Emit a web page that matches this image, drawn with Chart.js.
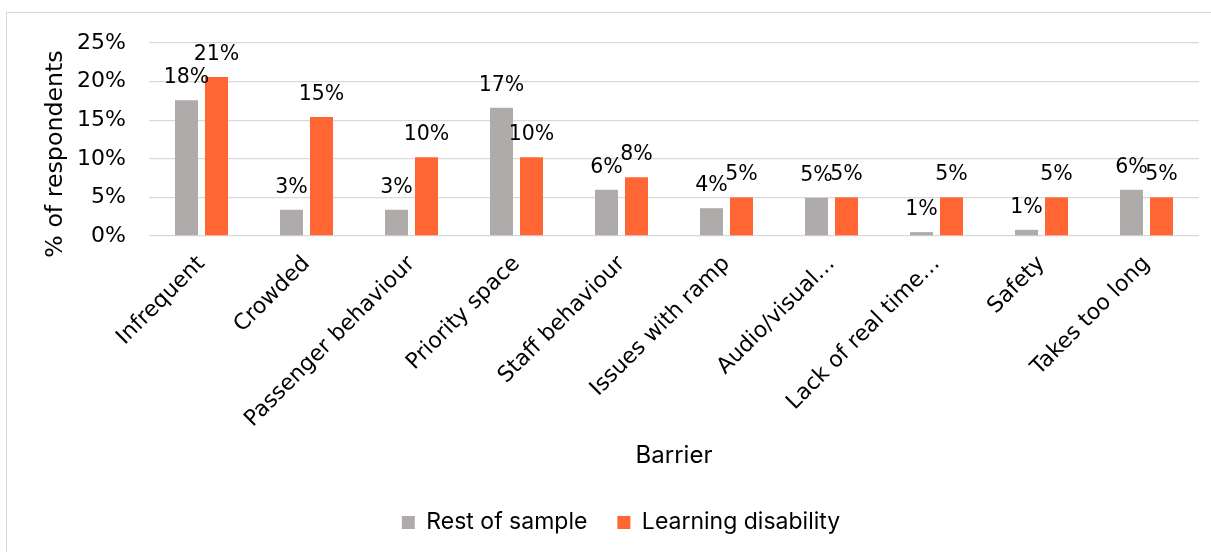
<!DOCTYPE html>
<html>
<head>
<meta charset="utf-8">
<script src="https://cdn.jsdelivr.net/npm/chart.js@4/dist/chart.umd.min.js"></script>
<style>
  html, body { margin: 0; padding: 0; background: #fff; }
  #wrap { position: relative; width: 1211px; height: 552px; overflow: hidden; }
  #frame { position: absolute; left: 6px; top: 12px; width: 1300px; height: 700px; border: 1.5px solid #d9d9d9; box-sizing: border-box; }
  canvas { position: absolute; left: 0; top: 0; }
</style>
</head>
<body>
<div id="wrap">
  <div id="frame"></div>
  <canvas id="c" width="1211" height="552"></canvas>
</div>
<script>
const categories = ["Infrequent", "Crowded", "Passenger behaviour", "Priority space", "Staff behaviour", "Issues with ramp", "Audio/visual…", "Lack of real time…", "Safety", "Takes too long"];
const restOfSample = [17.6, 3.4, 3.4, 16.6, 6.0, 3.6, 4.95, 0.5, 0.8, 6.0];
const learningDisability = [20.6, 15.4, 10.2, 10.2, 7.6, 5.0, 5.0, 5.0, 5.0, 5.0];
const yTicks = [0, 5, 10, 15, 20, 25];
const yTitle = '% of respondents';

const dataLabels = {
  id: 'dataLabels',
  afterDatasetsDraw(chart) {
    const ctx = chart.ctx;
    ctx.save();
    ctx.font = '20.5px "DejaVu Sans"';
    ctx.fillStyle = '#000';
    ctx.textAlign = 'center';
    ctx.textBaseline = 'alphabetic';
    chart.data.datasets.forEach((ds, i) => {
      const meta = chart.getDatasetMeta(i);
      meta.data.forEach((bar, j) => {
        const v = ds.data[j];
        ctx.fillText(Math.round(v) + '%', bar.x, bar.y - 17);
      });
    });
    ctx.restore();
  }
};

const yTitlePlugin = {
  id: 'yTitlePlugin',
  afterDraw(chart) {
    const ctx = chart.ctx;
    const area = chart.chartArea;
    ctx.save();
    ctx.font = '23.7px "DejaVu Sans"';
    ctx.fillStyle = '#000';
    ctx.textAlign = 'center';
    ctx.textBaseline = 'middle';
    ctx.translate(56, area.bottom - 82);
    ctx.rotate(-Math.PI / 2);
    ctx.fillText(yTitle, 0, 0);
    ctx.restore();
  }
};

new Chart(document.getElementById('c'), {
  type: 'bar',
  data: {
    labels: categories,
    datasets: [
      { label: 'Rest of sample', data: restOfSample, backgroundColor: '#afabab', categoryPercentage: 0.571, barPercentage: 0.767 },
      { label: 'Learning disability', data: learningDisability, backgroundColor: '#ff6633', categoryPercentage: 0.571, barPercentage: 0.767 }
    ]
  },
  options: {
    responsive: false,
    animation: false,
    layout: { padding: { top: 43, right: 12, left: 43, bottom: 8 } },
    plugins: {
      legend: {
        position: 'bottom',
        labels: {
          boxWidth: 13, boxHeight: 13, padding: 30, color: '#000',
          font: { family: 'Inter', size: 23 }
        }
      },
      tooltip: { enabled: false }
    },
    scales: {
      x: {
        grid: { display: false },
        border: { display: false },
        ticks: {
          color: '#000', minRotation: 45, maxRotation: 45, autoSkip: false, padding: 7,
          font: { family: 'DejaVu Sans', size: 22 }
        },
        title: { display: true, text: 'Barrier', color: '#000', padding: { top: 0, bottom: 11 }, font: { family: 'Inter', size: 24 } },
        afterFit(scale) { scale.height = 245; }
      },
      y: {
        min: 0, max: 25,
        afterBuildTicks(scale) { scale.ticks = yTicks.map(v => ({ value: v })); },
        grid: { color: '#d9d9d9', lineWidth: 1.3, drawTicks: false },
        border: { display: false },
        ticks: {
          color: '#000', padding: 23,
          font: { family: 'DejaVu Sans', size: 22 },
          callback: v => v + '%'
        },
        afterFit(scale) { scale.width = 106; }
      }
    }
  },
  plugins: [dataLabels, yTitlePlugin]
});
</script>
</body>
</html>
